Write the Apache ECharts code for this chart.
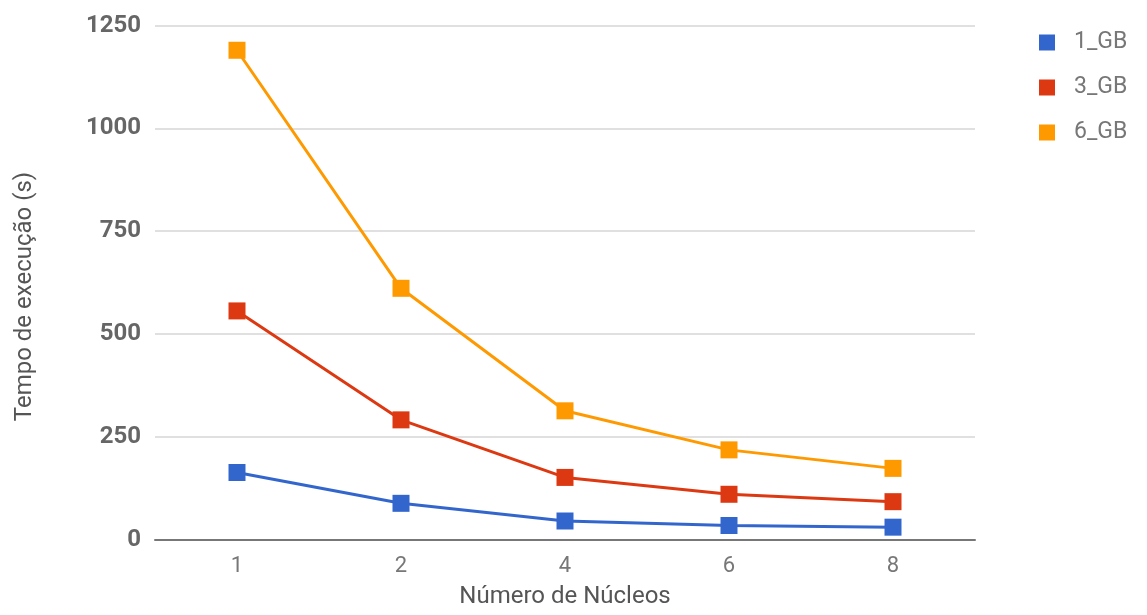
<!DOCTYPE html>
<html>
<head>
<meta charset="utf-8">
<script src="https://cdn.jsdelivr.net/npm/echarts@6/dist/echarts.min.js"></script>
<style>
  html, body { margin: 0; padding: 0; background: #fff; }
  #chart { width: 1147px; height: 615px; }
</style>
</head>
<body>
<div id="chart"></div>
<script>
// Execution time (seconds) by number of cores, per dataset size
const cores = ['1', '2', '4', '6', '8'];
const seriesNames = ['1_GB', '3_GB', '6_GB'];
const gb1 = [163, 88, 45, 34, 30];
const gb3 = [556, 291, 151, 110, 92];
const gb6 = [1190, 611, 313, 218, 173];
const yTicks = [0, 250, 500, 750, 1000, 1250];

const colors = ['#3366cc', '#dc3912', '#ff9900'];
const font = 'Roboto, "Noto Sans", sans-serif';

const chart = echarts.init(document.getElementById('chart'));

function lineSeries(name, data, color) {
  return {
    name: name,
    type: 'line',
    data: data,
    symbol: 'rect',
    symbolSize: 17,
    lineStyle: { width: 3, color: color },
    itemStyle: { color: color },
    emphasis: { disabled: true }
  };
}

chart.setOption({
  animation: false,
  grid: { left: 155, right: 172, top: 25.6, bottom: 75.5, outerBoundsMode: 'none', containLabel: false },
  legend: {
    orient: 'vertical',
    left: 1034,
    top: 26,
    itemWidth: 16,
    itemHeight: 16,
    itemGap: 22,
    icon: 'rect',
    textStyle: { color: '#777', fontSize: 23, fontFamily: font, padding: [0, 0, 0, 14] },
    data: seriesNames
  },
  xAxis: {
    type: 'category',
    data: cores,
    boundaryGap: true,
    name: 'Número de Núcleos',
    nameLocation: 'middle',
    nameGap: 45,
    nameTextStyle: { color: '#555', fontSize: 24, fontFamily: font },
    axisLine: { lineStyle: { color: '#777', width: 2 } },
    axisTick: { show: false },
    axisLabel: { color: '#777', fontSize: 22, fontFamily: font, margin: 16 }
  },
  yAxis: {
    type: 'value',
    min: yTicks[0],
    max: yTicks[yTicks.length - 1],
    interval: yTicks[1] - yTicks[0],
    name: 'Tempo de execução (s)',
    nameLocation: 'middle',
    nameGap: 118,
    nameTextStyle: { color: '#555', fontSize: 24, fontFamily: font, padding: [0, 28, 0, 0] },
    axisLine: { show: false },
    axisTick: { show: false },
    splitLine: { lineStyle: { color: '#d6d6d6', width: 1.5 } },
    axisLabel: {
      color: '#666', fontSize: 24, fontWeight: 'bold', fontFamily: font, margin: 14,
      formatter: function (v) { return String(v); }
    }
  },
  series: [
    lineSeries(seriesNames[0], gb1, colors[0]),
    lineSeries(seriesNames[1], gb3, colors[1]),
    lineSeries(seriesNames[2], gb6, colors[2])
  ]
});
</script>
</body>
</html>
